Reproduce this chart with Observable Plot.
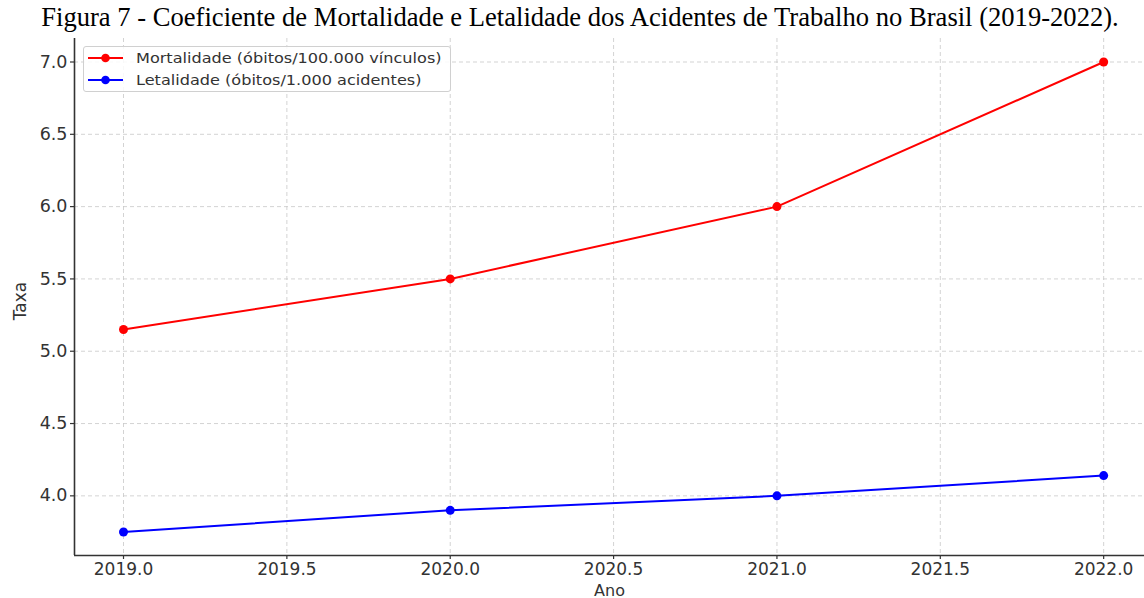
<!DOCTYPE html>
<html>
<head>
<meta charset="utf-8">
<script src="https://cdn.jsdelivr.net/npm/d3@7"></script>
<script src="https://cdn.jsdelivr.net/npm/@observablehq/plot@0.6"></script>
<style>
  html, body { margin: 0; padding: 0; background: #fff; }
  body { width: 1144px; height: 598px; overflow: hidden; }
  #title {
    height: 38px; box-sizing: border-box; padding-top: 3px; padding-left: 16px;
    font-family: "Liberation Serif", "Times New Roman", serif;
    font-size: 26.6px; line-height: 28px; text-align: center; color: #000;
    white-space: nowrap;
  }
  #wrap { position: relative; width: 1144px; height: 560px; }
  #legend {
    position: absolute; left: 83px; top: 8px; width: 368px; height: 46px;
    box-sizing: border-box; border: 1px solid #d0d0d0; border-radius: 3px;
    background: rgba(255,255,255,0.85);
    font-family: "DejaVu Sans", sans-serif; font-size: 14px; color: #333;
  }
  .row { position: absolute; left: 4px; height: 20px; display: flex; align-items: center; white-space: nowrap; }
  .row svg { margin-right: 13px; }
  .row span { display: inline-block; transform: scaleX(1.15); transform-origin: left center; }
</style>
</head>
<body>
<div id="title">Figura 7 - Coeficiente de Mortalidade e Letalidade dos Acidentes de Trabalho no Brasil (2019-2022).</div>
<div id="wrap">
  <div id="legend"></div>
</div>
<script>
const anos = [2019, 2020, 2021, 2022];
const mortalidade = [5.15, 5.5, 6.0, 7.0];
const letalidade = [3.75, 3.9, 4.0, 4.14];
const xTicks = [2019.0, 2019.5, 2020.0, 2020.5, 2021.0, 2021.5, 2022.0];
const yTicks = [4.0, 4.5, 5.0, 5.5, 6.0, 6.5, 7.0];
const xDomain = [2018.85, 2022.125];
const yDomain = [3.5875, 7.1625];
const series = [
  {name: "Mortalidade (óbitos/100.000 vínculos)", values: mortalidade, color: "#ff0000"},
  {name: "Letalidade (óbitos/1.000 acidentes)", values: letalidade, color: "#0000ff"}
];

const rows = series.flatMap(s => anos.map((a, i) => ({serie: s.name, ano: a, v: s.values[i], color: s.color})));
const fmt = d3.format(".1f");

const chart = Plot.plot({
  width: 1144,
  height: 560,
  marginTop: 0,
  marginLeft: 74,
  marginRight: 0,
  marginBottom: 43,
  style: {fontFamily: "DejaVu Sans, sans-serif", fontSize: "16px", color: "#333", background: "#fff", overflow: "hidden"},
  x: {domain: xDomain, label: null},
  y: {domain: yDomain, label: null},
  marks: [
    Plot.gridX(xTicks, {stroke: "#c8c8c8", strokeOpacity: 0.8, strokeDasharray: "4,3"}),
    Plot.gridY(yTicks, {stroke: "#c8c8c8", strokeOpacity: 0.8, strokeDasharray: "4,3"}),
    Plot.axisX(xTicks, {tickFormat: fmt, tickSize: 4, tickPadding: 3, fontSize: 17, label: null, stroke: "#333", strokeWidth: 1.2}),
    Plot.axisY(yTicks, {tickFormat: fmt, tickSize: 4, tickPadding: 3, fontSize: 17.5, label: null, stroke: "#333", strokeWidth: 1.2}),
    Plot.ruleX([xDomain[0]], {stroke: "#333", strokeWidth: 1.6}),
    Plot.ruleY([yDomain[0]], {stroke: "#333", strokeWidth: 1.6}),
    ...series.map(s => Plot.line(rows.filter(r => r.serie === s.name), {x: "ano", y: "v", stroke: s.color, strokeWidth: 2})),
    ...series.map(s => Plot.dot(rows.filter(r => r.serie === s.name), {x: "ano", y: "v", fill: s.color, r: 4.5})),
    Plot.text(["Ano"], {frameAnchor: "bottom", dy: 40, fontSize: 16, fill: "#333"}),
    Plot.text(["Taxa"], {frameAnchor: "left", dx: -54, dy: 4, rotate: -90, textAnchor: "middle", fontSize: 17, fill: "#333"})
  ]
});
document.getElementById("wrap").prepend(chart);

const legend = document.getElementById("legend");
series.forEach((s, i) => {
  const row = document.createElement("div");
  row.className = "row";
  row.style.top = (1 + i * 22) + "px";
  row.innerHTML = `<svg width="35" height="12"><line x1="0" y1="6" x2="35" y2="6" stroke="${s.color}" stroke-width="2"/><circle cx="17.5" cy="6" r="4.3" fill="${s.color}"/></svg><span>${s.name}</span>`;
  legend.appendChild(row);
});
</script>
</body>
</html>
